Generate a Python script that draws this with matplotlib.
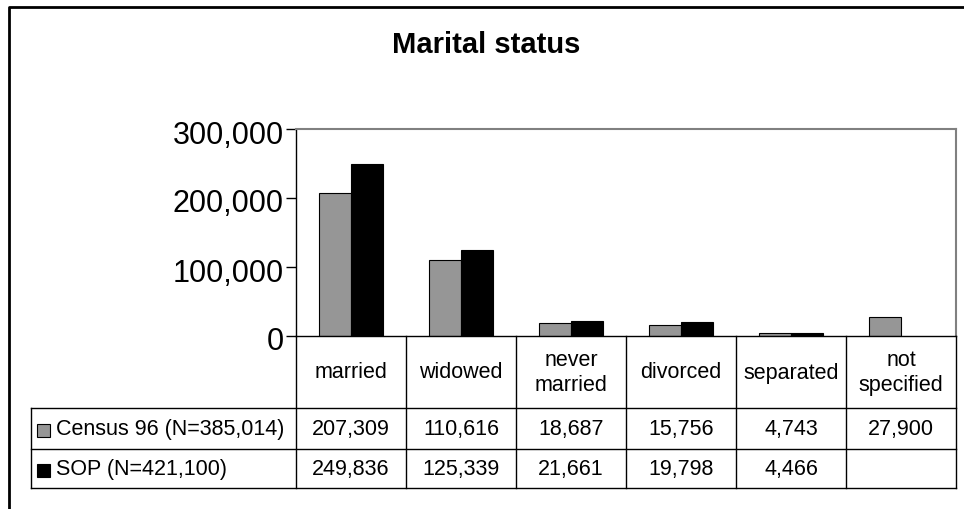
import numpy as np
import matplotlib
matplotlib.use('Agg')
import matplotlib.pyplot as plt
import matplotlib.transforms as mtransforms
from matplotlib.patches import Rectangle
from matplotlib.lines import Line2D
from matplotlib.ticker import FuncFormatter

plt.rcParams['font.family'] = ['Liberation Sans', 'DejaVu Sans']

categories = ['married', 'widowed', 'never\nmarried', 'divorced', 'separated', 'not\nspecified']
census = [207309, 110616, 18687, 15756, 4743, 27900]
sop = [249836, 125339, 21661, 19798, 4466, np.nan]
series_names = ['Census 96 (N=385,014)', 'SOP (N=421,100)']
yticks = [0, 100000, 200000, 300000]

W, H = 964, 509
GRAY = '#969696'

fig = plt.figure(figsize=(W / 100, H / 100), dpi=100)

# plot area in pixels: left 296, top 129, right 956, zero line 336
ax = fig.add_axes([296 / W, 1 - 336 / H, 660 / W, 207 / H])
x = np.arange(len(categories))
bw = 0.29
ax.bar(x - bw / 2, census, bw, color=GRAY, edgecolor='black', linewidth=0.8)
ax.bar(x + bw / 2, sop, bw, color='black', edgecolor='black', linewidth=0.8)
ax.set_xlim(-0.5, len(categories) - 0.5)
ax.set_ylim(0, 300000)
ax.set_yticks(yticks)
ax.yaxis.set_major_formatter(FuncFormatter(lambda v, p: f'{v:,.0f}'))
ax.tick_params(axis='y', direction='out', length=7, width=1, labelsize=22, pad=2)
ax.tick_params(axis='x', length=0, labelbottom=False)
# labels sit a little below their ticks in the original
shift = mtransforms.ScaledTranslation(0, -3 / 100, fig.dpi_scale_trans)
for lab in ax.get_yticklabels():
    lab.set_transform(lab.get_transform() + shift)
for s in ['top', 'right']:
    ax.spines[s].set_color('#808080')
    ax.spines[s].set_linewidth(1.5)
for s in ['left', 'bottom']:
    ax.spines[s].set_color('black')
    ax.spines[s].set_linewidth(1)

# title
fig.text(486 / W, 1 - 45 / H, 'Marital status', ha='center', va='center',
         fontsize=21, fontweight='bold')

# outer chart frame (only left and top visible)
fig.add_artist(Line2D([8.5 / W, 8.5 / W, 1], [0, 1 - 6.5 / H, 1 - 6.5 / H],
                      transform=fig.transFigure, color='black', linewidth=2))

# data table under the plot
trans = mtransforms.blended_transform_factory(ax.transData, fig.transFigure)
def fy(ypx):
    return 1 - ypx / H

x_left = -0.5 + (31 - 296) / 110
x_right = len(categories) - 0.5
row_top, row1, row2, row_bot = 336, 408, 449, 488
lw = 1
for yy in [row1, row2, row_bot]:
    fig.add_artist(Line2D([x_left, x_right], [fy(yy), fy(yy)], transform=trans,
                          color='black', linewidth=lw))
for i in range(len(categories) + 1):
    fig.add_artist(Line2D([i - 0.5, i - 0.5], [fy(row_top), fy(row_bot)],
                          transform=trans, color='black', linewidth=lw))
fig.add_artist(Line2D([x_left, x_left], [fy(row1), fy(row_bot)],
                      transform=trans, color='black', linewidth=lw))

for i, c in enumerate(categories):
    fig.text(i, fy((row_top + row1) / 2 + 1), c, transform=trans, ha='center',
             va='center', fontsize=15.5, linespacing=1.3)

rows = [census, sop]
row_centers = [(row1 + row2) / 2 + 1, (row2 + row_bot) / 2 + 1]
colors = [GRAY, 'black']
for vals, yc, name, col in zip(rows, row_centers, series_names, colors):
    for i, v in enumerate(vals):
        if not np.isnan(v):
            fig.text(i, fy(yc), f'{v:,.0f}', transform=trans, ha='center',
                     va='center', fontsize=15.5)
    fig.add_artist(Rectangle((37 / W, fy(yc + 7)), 13 / W, 13 / H,
                             transform=fig.transFigure, facecolor=col,
                             edgecolor='black', linewidth=0.8))
    fig.text(56 / W, fy(yc), name, ha='left', va='center', fontsize=15.5)

fig.savefig('out.png', dpi=100)
